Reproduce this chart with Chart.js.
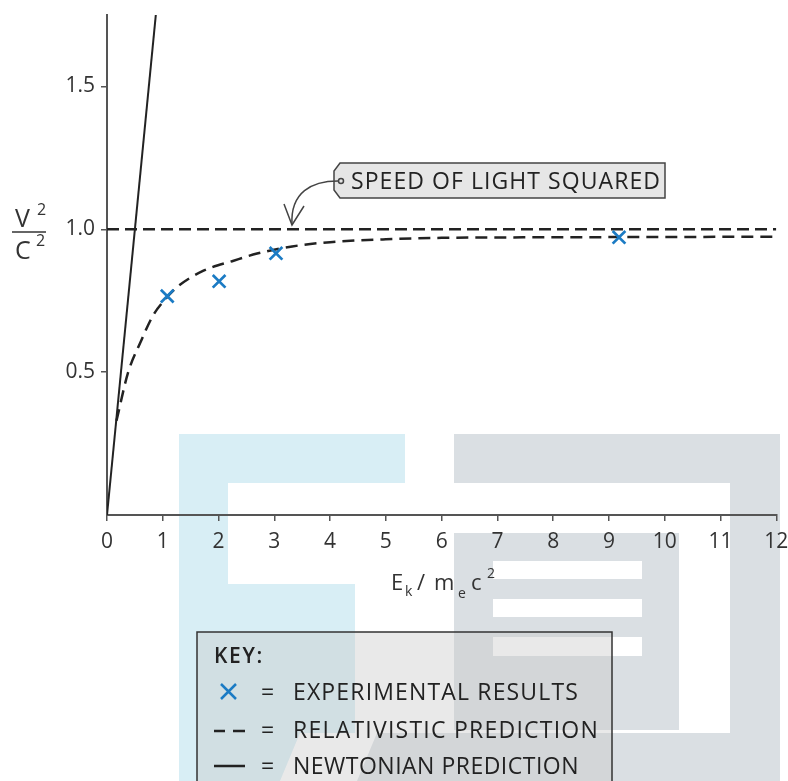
<!DOCTYPE html>
<html>
<head>
<meta charset="utf-8">
<script src="https://cdn.jsdelivr.net/npm/chart.js@4/dist/chart.umd.min.js"></script>
<style>
  body { margin: 0; background: #fff; }
  canvas { display: block; }
</style>
</head>
<body>
<canvas id="speedChart" width="788" height="781"></canvas>
<script>
// values
var xTicks = [0, 1, 2, 3, 4, 5, 6, 7, 8, 9, 10, 11, 12];
var yTicks = [0.5, 1.0, 1.5];

var expX = [1.08, 2.01, 3.03, 9.18];
var expY = [0.766, 0.818, 0.916, 0.972];

var relX = [0.17, 0.38, 0.59, 0.83, 1.0, 1.24, 1.73, 2.27, 2.69, 3.32, 4, 5, 6, 8, 12];
var relY = [0.33, 0.5, 0.6, 0.7, 0.745, 0.795, 0.855, 0.89, 0.915, 0.94, 0.955, 0.965, 0.97, 0.972, 0.974];

var newtX = [0, 0.9];
var newtY = [0, 1.8];

var lightX = [0, 12];
var lightY = [1, 1];

var keyLabels = ['EXPERIMENTAL RESULTS', 'RELATIVISTIC PREDICTION', 'NEWTONIAN PREDICTION'];
var calloutText = 'SPEED OF LIGHT SQUARED';

function pts(xs, ys) {
    return xs.map(function(x, i) { return {x: x, y: ys[i]}; });
}

var FONT = '"Open Sans", "DejaVu Sans", sans-serif';
var INK = '#333';

// stretch a label to the width it has in the picture
function fitText(c, str, x, y, w) {
    c.letterSpacing = '0px';
    var m = c.measureText(str).width;
    c.letterSpacing = ((w - m) / str.length) + 'px';
    c.fillText(str, x, y);
    c.letterSpacing = '0px';
}

// watermark, drawn underneath everything
var watermark = {
    id: 'watermark',
    beforeDraw: function(chart) {
        var c = chart.ctx;
        c.save();
        c.fillStyle = '#d8eef5';
        c.fillRect(179, 434, 226, 49);
        c.fillRect(179, 483, 49, 101);
        c.beginPath();
        c.moveTo(179, 584); c.lineTo(355, 584); c.lineTo(355, 733);
        c.lineTo(300, 733); c.lineTo(280, 781); c.lineTo(179, 781);
        c.closePath(); c.fill();

        c.fillStyle = '#dadfe3';
        c.fillRect(454, 434, 326, 49);
        c.fillRect(730, 483, 50, 250);
        c.fillRect(454, 533, 225, 197);
        c.beginPath();
        c.moveTo(377, 733); c.lineTo(780, 733); c.lineTo(780, 781); c.lineTo(357, 781);
        c.closePath(); c.fill();

        c.fillStyle = '#fff';
        c.fillRect(493, 561, 149, 18);
        c.fillRect(493, 599, 149, 18);
        c.fillRect(493, 637, 149, 19);
        c.restore();
    }
};

// axis titles, callout and key
var extras = {
    id: 'extras',
    afterDraw: function(chart) {
        var c = chart.ctx;
        c.save();
        c.fillStyle = INK;
        c.strokeStyle = INK;
        c.textBaseline = 'alphabetic';
        c.textAlign = 'left';

        // y title  v^2 / c^2
        c.font = '25px ' + FONT;
        c.fillText('V', 15, 227);
        c.fillText('C', 15, 259);
        c.font = '16px ' + FONT;
        c.fillText('2', 37, 215);
        c.fillText('2', 36, 246);
        c.lineWidth = 1.6;
        c.beginPath(); c.moveTo(12, 232); c.lineTo(46, 232); c.stroke();

        // x title  E_k / m_e c^2
        c.font = '22px ' + FONT;
        c.fillText('E', 391, 590);
        c.fillText('/', 417, 590);
        c.fillText('m', 434, 590);
        c.fillText('c', 471, 590);
        c.font = '14px ' + FONT;
        c.fillText('k', 405, 596);
        c.fillText('e', 458, 598);
        c.fillText('2', 487, 578);

        // callout
        c.beginPath();
        c.moveTo(340, 163); c.lineTo(665, 163); c.lineTo(665, 198); c.lineTo(340, 198);
        c.lineTo(334, 190); c.lineTo(334, 171); c.closePath();
        c.fillStyle = '#e6e6e6'; c.fill();
        c.lineWidth = 1.5; c.strokeStyle = '#444'; c.stroke();
        c.beginPath(); c.arc(341, 181, 2.5, 0, Math.PI * 2); c.stroke();
        c.fillStyle = '#222';
        c.font = '23px ' + FONT;
        c.textBaseline = 'middle';
        fitText(c, calloutText, 351, 182, 310);
        c.beginPath();
        c.moveTo(338, 181);
        c.bezierCurveTo(312, 181, 290, 192, 292, 225);
        c.stroke();
        c.beginPath();
        c.moveTo(284, 204); c.lineTo(292, 225); c.lineTo(304, 206);
        c.stroke();

        // key box
        c.fillStyle = 'rgba(200,200,200,0.4)';
        c.fillRect(197, 632, 415, 160);
        c.strokeStyle = '#333'; c.lineWidth = 1.5;
        c.strokeRect(197, 632, 415, 160);
        c.fillStyle = '#222';
        c.font = '600 21px ' + FONT;
        fitText(c, 'KEY:', 214, 657, 50);
        c.font = '23px ' + FONT;
        var rowY = [693, 731, 767];
        var rowW = [286, 306, 286];
        keyLabels.forEach(function(s, i) {
            c.fillText('=', 261, rowY[i]);
            fitText(c, s, 293, rowY[i], rowW[i]);
        });
        c.strokeStyle = '#1b7bc4'; c.lineWidth = 2.5;
        c.beginPath();
        c.moveTo(221, 684); c.lineTo(236, 699);
        c.moveTo(236, 684); c.lineTo(221, 699);
        c.stroke();
        c.strokeStyle = '#222'; c.lineWidth = 2.5;
        c.beginPath();
        c.moveTo(214, 731); c.lineTo(225, 731);
        c.moveTo(233, 731); c.lineTo(245, 731);
        c.moveTo(214, 766); c.lineTo(245, 766);
        c.stroke();
        c.restore();
    }
};

var ctx = document.getElementById('speedChart').getContext('2d');
new Chart(ctx, {
    type: 'scatter',
    data: {
        datasets: [
            {
                label: 'Experimental results',
                data: pts(expX, expY),
                pointStyle: 'crossRot',
                pointRadius: 9,
                pointBorderWidth: 2.7,
                borderColor: '#1b7bc4',
                backgroundColor: '#1b7bc4',
                showLine: false,
                order: 0
            },
            {
                label: 'Relativistic prediction',
                data: pts(relX, relY),
                showLine: true,
                cubicInterpolationMode: 'monotone',
                borderColor: '#222',
                borderWidth: 2.5,
                borderDash: [12, 7],
                pointRadius: 0,
                order: 1
            },
            {
                label: 'Speed of light squared',
                data: pts(lightX, lightY),
                showLine: true,
                borderColor: '#222',
                borderWidth: 2.5,
                borderDash: [12, 6],
                pointRadius: 0,
                order: 2
            },
            {
                label: 'Newtonian prediction',
                data: pts(newtX, newtY),
                showLine: true,
                borderColor: '#222',
                borderWidth: 2,
                pointRadius: 0,
                order: 3
            }
        ]
    },
    options: {
        responsive: false,
        animation: false,
        layout: { padding: { top: 15, right: 0, left: 0, bottom: 0 } },
        plugins: {
            legend: { display: false },
            tooltip: { enabled: false }
        },
        scales: {
            x: {
                type: 'linear',
                min: 0,
                max: 12,
                afterBuildTicks: function(axis) {
                    axis.ticks = xTicks.map(function(v) { return {value: v}; });
                },
                afterFit: function(axis) {
                    axis.height = 266;
                    axis.paddingLeft = 0;
                    axis.paddingRight = 11;
                },
                grid: { drawOnChartArea: false, drawTicks: true, tickLength: 6, color: '#555', lineWidth: 1.5 },
                border: { display: true, color: '#555', width: 2 },
                ticks: { color: INK, font: { family: FONT, size: 21 }, padding: 8, maxRotation: 0 }
            },
            y: {
                type: 'linear',
                min: 0,
                max: 1.75,
                afterBuildTicks: function(axis) {
                    axis.ticks = yTicks.map(function(v) { return {value: v}; });
                },
                afterFit: function(axis) {
                    axis.width = 107;
                    axis.paddingTop = 0;
                    axis.paddingBottom = 0;
                },
                grid: { drawOnChartArea: false, drawTicks: true, tickLength: 6, color: '#555', lineWidth: 1.5 },
                border: { display: true, color: '#555', width: 2 },
                ticks: {
                    color: INK,
                    font: { family: FONT, size: 21 },
                    padding: 6,
                    callback: function(v) { return v.toFixed(1); }
                }
            }
        }
    },
    plugins: [watermark, extras]
});
</script>
</body>
</html>
